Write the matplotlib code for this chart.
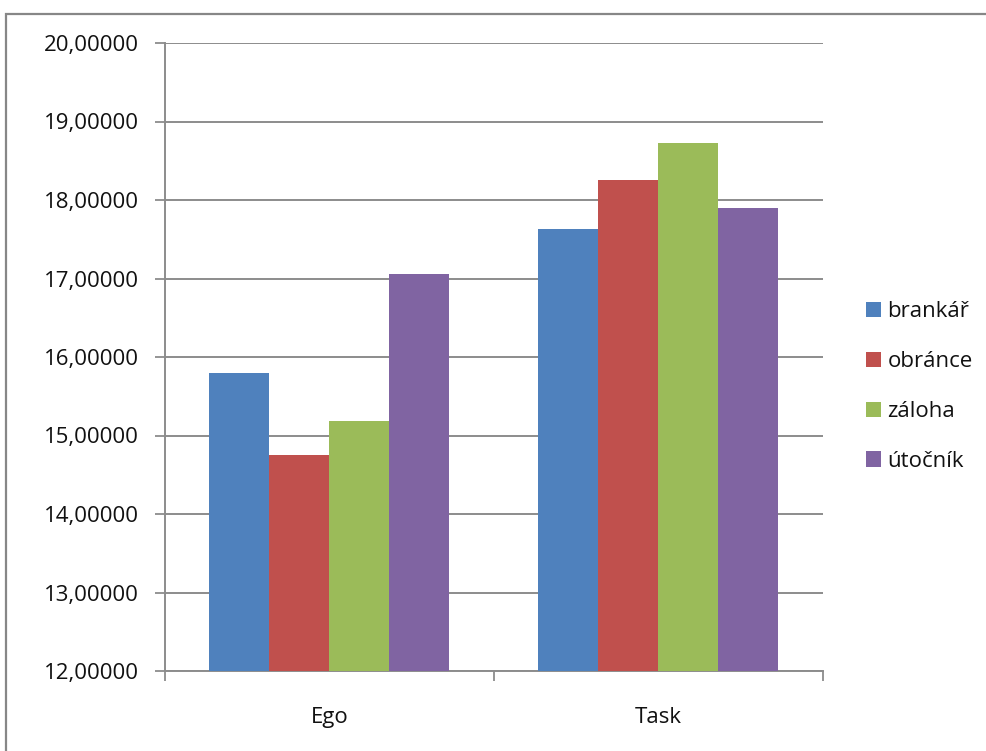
import matplotlib
matplotlib.use("Agg")
import matplotlib.pyplot as plt
from matplotlib.patches import Rectangle
from matplotlib.ticker import FuncFormatter, FixedLocator
import numpy as np

categories = ["Ego", "Task"]
series_names = ["brankář", "obránce", "záloha", "útočník"]
brankar = [15.80, 17.63]
obrance = [14.75, 18.25]
zaloha = [15.18, 18.72]
utocnik = [17.06, 17.90]
series_values = [brankar, obrance, zaloha, utocnik]
colors = ["#4F81BD", "#C0504D", "#9BBB59", "#8064A2"]

plt.rcParams["font.family"] = ["Open Sans", "DejaVu Sans"]
text_color = "#111111"

W, H = 987, 751
fig = plt.figure(figsize=(W / 100, H / 100), dpi=100)

# outer chart frame (only left and top edges fall inside the image)
fig.patches.append(Rectangle((6 / W, -0.1), 2.0, 1 - 13.5 / H + 0.1,
                             transform=fig.transFigure, fill=False,
                             edgecolor="#878787", linewidth=1.6))

left, right, top, bottom = 165, 823, 43, 671
ax = fig.add_axes([left / W, (H - bottom) / H, (right - left) / W, (bottom - top) / H])

n = len(series_names)
group_w = 240 / 329
bw = group_w / n
x = np.arange(len(categories))
for i, (name, vals, c) in enumerate(zip(series_names, series_values, colors)):
    ax.bar(x - group_w / 2 + bw * (i + 0.5), vals, width=bw, color=c,
           label=name, zorder=3)

ax.set_xlim(-0.5, len(categories) - 0.5)
ax.set_ylim(12, 20)
ax.set_yticks(np.arange(12, 20.5, 1))
ax.yaxis.set_major_formatter(FuncFormatter(lambda v, p: f"{v:.5f}".replace(".", ",")))
ax.grid(axis="y", color="#8c8c8c", linewidth=1.4, zorder=0)
ax.set_axisbelow(True)

ax.set_xticks(x)
ax.set_xticklabels(categories)
ax.xaxis.set_minor_locator(FixedLocator(np.arange(-0.5, len(categories), 1)))
ax.tick_params(axis="x", which="major", length=0, pad=26, labelsize=16,
               labelcolor=text_color)
ax.tick_params(axis="x", which="minor", length=7, color="#8c8c8c", width=1.3)
ax.tick_params(axis="y", length=7, color="#8c8c8c", width=1.3, pad=12, labelsize=16,
               labelcolor=text_color)

for s in ["top", "right"]:
    ax.spines[s].set_visible(False)
for s in ["left", "bottom"]:
    ax.spines[s].set_color("#8c8c8c")
    ax.spines[s].set_linewidth(1.4)

leg = ax.legend(loc="center left", bbox_to_anchor=(1.035, 0.453), frameon=False,
                fontsize=16, handlelength=0.68, handleheight=0.68,
                handletextpad=0.28, labelspacing=1.3, labelcolor=text_color)

fig.savefig("out.png", dpi=100)
